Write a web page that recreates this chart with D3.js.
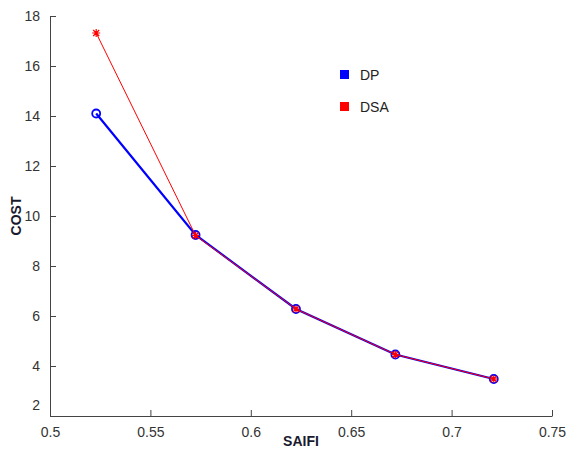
<!DOCTYPE html>
<html>
<head>
<meta charset="utf-8">
<script src="https://cdn.jsdelivr.net/npm/d3@7"></script>
<style>
  body { margin: 0; background: #fff; }
  svg { font-family: "Liberation Sans", Arial, sans-serif; }
  .axis text { fill: #333; font-size: 14px; }
  .axis path, .axis line { stroke: #444; }
</style>
</head>
<body>
<svg width="573" height="453"></svg>
<script>
// data
const saifi = [0.523, 0.5725, 0.6225, 0.672, 0.721];
const costDP = [14.1, 9.24, 6.28, 4.46, 3.48];
const costDSA = [17.32, 9.22, 6.28, 4.46, 3.48];
const xTicks = [0.5, 0.55, 0.6, 0.65, 0.7, 0.75];
const yTicks = [2, 4, 6, 8, 10, 12, 14, 16, 18];
const legendNames = ['DP', 'DSA'];
const legendColors = ['#0000ff', '#ff0000'];

var svg = d3.select('svg');

var x = d3.scaleLinear().domain([0.5, 0.75]).range([50, 552]);
var y = d3.scaleLinear().domain([2, 18]).range([416, 16]);

// x axis, ticks point inward
svg.append('g')
  .attr('class', 'axis')
  .attr('transform', 'translate(0,416)')
  .call(d3.axisBottom(x).tickValues(xTicks).tickSizeInner(-6).tickSizeOuter(0)
    .tickPadding(9).tickFormat(d3.format('')))
  .call(g => g.selectAll('text').attr('dy', '0.85em'));

// y axis
svg.append('g')
  .attr('class', 'axis')
  .attr('transform', 'translate(50,0)')
  .call(d3.axisLeft(y).tickValues(yTicks).tickSizeInner(-6).tickSizeOuter(0)
    .tickPadding(10))
  .call(g => g.selectAll('.tick').filter(d => d === 2).select('text').attr('dy', '-0.45em'));

var line = d3.line()
  .x((d, i) => x(saifi[i]))
  .y(d => y(d));

// DP: thick blue line with circles
svg.append('path')
  .datum(costDP)
  .attr('d', line)
  .attr('fill', 'none')
  .attr('stroke', legendColors[0])
  .attr('stroke-width', 2.2);

svg.selectAll('.dp')
  .data(costDP)
  .enter().append('circle')
  .attr('cx', (d, i) => x(saifi[i]))
  .attr('cy', d => y(d))
  .attr('r', 4)
  .attr('fill', 'none')
  .attr('stroke', legendColors[0])
  .attr('stroke-width', 1.8);

// DSA: thin red line with stars
svg.append('path')
  .datum(costDSA)
  .attr('d', line)
  .attr('fill', 'none')
  .attr('stroke', legendColors[1])
  .attr('stroke-width', 1);

var star = 'M-4,0L4,0M0,-4L0,4M-3,-3L3,3M-3,3L3,-3';
svg.selectAll('.dsa')
  .data(costDSA)
  .enter().append('path')
  .attr('transform', (d, i) => 'translate(' + x(saifi[i]) + ',' + y(d) + ')')
  .attr('d', star)
  .attr('stroke', legendColors[1])
  .attr('stroke-width', 1.2);

// legend
legendNames.forEach(function(name, i) {
  svg.append('rect')
    .attr('x', 340)
    .attr('y', 70 + i * 32)
    .attr('width', 9)
    .attr('height', 9)
    .attr('fill', legendColors[i]);
  svg.append('text')
    .attr('x', 360)
    .attr('y', 80 + i * 32)
    .attr('font-size', 14)
    .attr('fill', '#222')
    .text(name);
});

// axis titles
svg.append('text')
  .attr('transform', 'translate(21,216) rotate(-90)')
  .attr('text-anchor', 'middle')
  .attr('font-size', 14)
  .attr('font-weight', 'bold')
  .attr('fill', '#1a1a2e')
  .text('COST');

svg.append('text')
  .attr('x', 301)
  .attr('y', 446)
  .attr('text-anchor', 'middle')
  .attr('font-size', 14)
  .attr('font-weight', 'bold')
  .attr('fill', '#1a1a2e')
  .text('SAIFI');
</script>
</body>
</html>
